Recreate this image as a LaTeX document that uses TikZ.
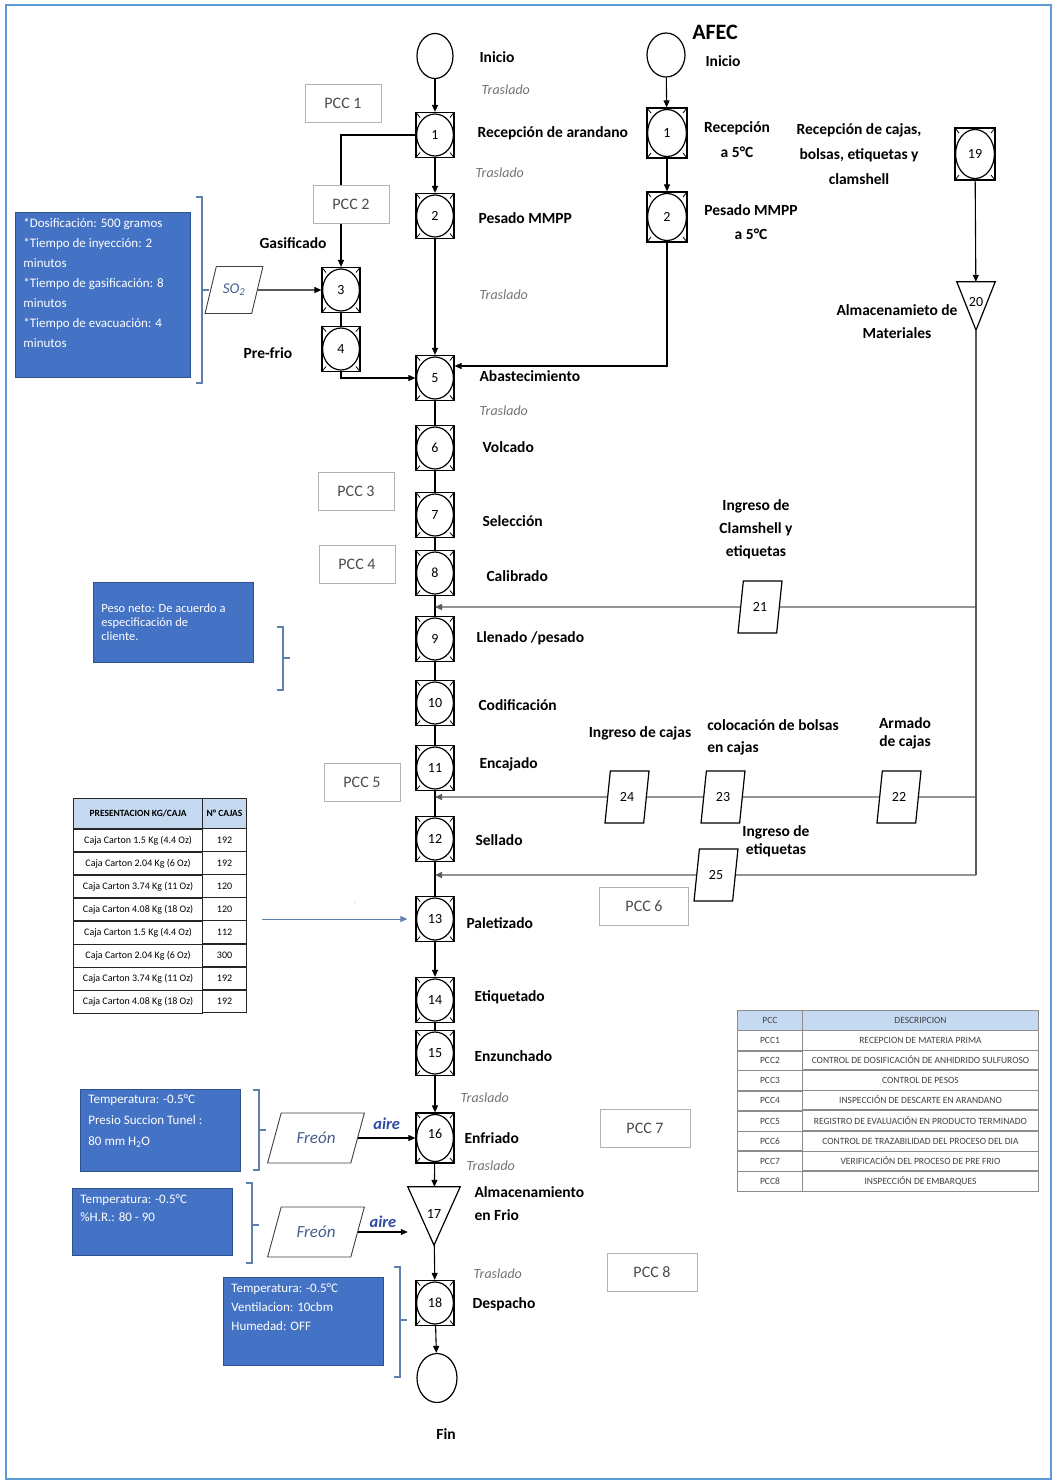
\documentclass[tikz,border=0pt]{standalone}
\usepackage{fontspec}
\setmainfont{Carlito}
\usetikzlibrary{arrows.meta,positioning,shapes.geometric,matrix,calc}

\definecolor{boxblue}{RGB}{68,114,196}
\definecolor{boxedge}{RGB}{47,82,143}
\definecolor{hdrblue}{RGB}{197,217,241}
\definecolor{bracecol}{RGB}{95,128,172}
\definecolor{framecol}{RGB}{91,155,213}
\definecolor{freoncol}{RGB}{70,95,140}
\definecolor{airecol}{RGB}{45,75,160}

\begin{document}
\begin{tikzpicture}[
  x=1pt, y=-1pt,
  opbox/.style={draw, line width=1.2pt, fill=white, minimum width=38pt, minimum height=45pt, inner sep=0pt, font=\fontsize{14}{16}\selectfont,
    path picture={
      \draw[line width=1.2pt] let \p1=(path picture bounding box.north east), \p2=(path picture bounding box.center)
        in (\p2) ellipse[x radius=\x1-\x2-0.6pt, y radius=\y1-\y2-1.5pt];
      \draw[line width=0.8pt] (path picture bounding box.north west) -- ++(4pt,-5pt)
        (path picture bounding box.north east) -- ++(-4pt,-5pt)
        (path picture bounding box.south west) -- ++(4pt,5pt)
        (path picture bounding box.south east) -- ++(-4pt,5pt);}},
  start/.style={draw, ellipse, line width=1.2pt, minimum width=36pt, minimum height=45pt, inner sep=0pt},
  tri/.style={minimum width=52pt, minimum height=58pt, inner sep=0pt, font=\fontsize{14}{16}\selectfont},
  para/.style={trapezium, trapezium left angle=76, trapezium right angle=104, trapezium stretches=true, draw, line width=1.2pt, fill=white, minimum width=44pt, minimum height=52pt, inner sep=0pt, font=\fontsize{14}{16}\selectfont},
  freon/.style={trapezium left angle=57, trapezium right angle=123, minimum width=97pt, minimum height=50pt, line width=0.9pt, draw=black!75, font=\itshape\fontsize{17}{19}\selectfont, text=freoncol},
  lbl/.style={anchor=west, font=\bfseries\fontsize{15.5}{18}\selectfont},
  mlbl/.style={align=center, font=\bfseries\fontsize{15.5}{#1}\selectfont},
  tras/.style={anchor=west, font=\itshape\fontsize{14}{16}\selectfont, text=black!55},
  pccbox/.style={draw=black!30, line width=0.8pt, fill=white, minimum width=76pt, minimum height=38pt, font=\fontsize{16}{18}\selectfont, text=black!70},
  note/.style={draw=boxedge, line width=0.8pt, fill=boxblue, text=white, anchor=north west, inner xsep=8pt, inner ysep=6pt},
  aire/.style={font=\bfseries\itshape\fontsize{16.5}{18}\selectfont, text=airecol},
  flow/.style={line width=1.1pt},
  flowarr/.style={-{Triangle[length=7pt,width=6pt]}, line width=1.1pt},
  feed/.style={line width=1.3pt, black!65},
  feedarr/.style={feed, -{Triangle[length=7pt,width=6pt]}},
  bluearr/.style={-{Triangle[length=7pt,width=6pt]}, line width=0.9pt, bracecol},
  brace/.style={line width=1.3pt, bracecol}
]
\useasboundingbox (0,0) rectangle (1056,1483);
\draw[framecol, line width=2.5pt] (6,5) rectangle (1051,1479);

% main line
\node[start] (ini) at (435,56) {};
\node[opbox] (n1) at (435,135) {1};
\node[opbox] (n2) at (435,216) {2};
\node[opbox] (n3) at (341,290) {3};
\node[opbox] (n4) at (341,349) {4};
\node[opbox] (n5) at (435,378) {5};
\node[opbox] (n6) at (435,448) {6};
\node[opbox] (n7) at (435,515) {7};
\node[opbox] (n8) at (435,573) {8};
\node[opbox] (n9) at (435,639) {9};
\node[opbox] (n10) at (435,703) {10};
\node[opbox] (n11) at (435,768) {11};
\node[opbox] (n12) at (435,839) {12};
\node[opbox] (n13) at (435,919) {13};
\node[opbox] (n14) at (435,1000) {14};
\node[opbox] (n15) at (435,1053) {15};
\node[opbox, minimum height=50pt] (n16) at (435,1138) {\raisebox{9pt}{16}};
\node[tri] (t17) at (434,1216) {\raisebox{4pt}{17}};
\node[opbox] (n18) at (435,1303) {18};
\node[start, minimum width=40pt, minimum height=49pt] (fin) at (437,1378) {};

% AFEC line and materials
\node[start, minimum width=38pt, minimum height=44pt] (a0) at (666,55) {};
\node[opbox, minimum width=40pt, minimum height=50pt] (a1) at (667,133) {1};
\node[opbox, minimum width=40pt, minimum height=50pt] (a2) at (667,217) {2};
\node[opbox, minimum width=40pt, minimum height=52pt] (n19) at (975,154) {19};
\node[tri, minimum width=38pt, minimum height=48pt] (t20) at (976,306) {\raisebox{9pt}{20}};
\foreach \t in {t17,t20}
  \draw[line width=1.2pt] (\t.north west) -- (\t.north east) -- (\t.south) -- cycle;

\node[para] (p21) at (760,607) {21};
\node[para] (p22) at (899,797) {22};
\node[para] (p23) at (723,797) {23};
\node[para] (p24) at (627,797) {24};
\node[para] (p25) at (716,875) {25};
\node[para, trapezium left angle=59, trapezium right angle=121, minimum width=58pt, minimum height=47pt, line width=0.9pt, draw=black!75, font=\itshape\fontsize{15}{17}\selectfont, text=freoncol] (so2) at (234,290) {SO\textsubscript{2}};
\node[para, freon] (fr1) at (316,1138) {Freón};
\node[para, freon] (fr2) at (316,1232) {Freón};

% connectors
\draw[flowarr] (ini) -- (n1);
\draw[flowarr] (n1) -- (n2);
\draw[flowarr] (n2) -- (n5);
\foreach \a/\b in {n5/n6,n6/n7,n7/n8,n8/n9,n9/n10,n10/n11,n11/n12,n12/n13,n14/n15,n3/n4}
  \draw[flow] (\a) -- (\b);
\foreach \a/\b in {n13/n14,n15/n16,n16/t17,t17/n18,n18/fin,a0/a1,a1/a2,n19/t20}
  \draw[flowarr] (\a) -- (\b);
\draw[flowarr] (n1.west) -| (n3.north);
\draw[flowarr] (n4.south) |- (n5.west);
\draw[flowarr] (so2) -- (n3);
\draw[flowarr] (a2.south) |- ([yshift=12pt]n5.east);
\draw[flowarr] (fr1) -- (n16) node[pos=0.5, above=5pt, aire] {aire};
\draw[flowarr] (fr2) -- (fr2 -| t17.west) node[pos=0.5, above=1pt, aire] {aire};

\coordinate (r21) at (976,607);
\coordinate (r22) at (976,797);
\coordinate (r25) at (976,875);
\draw[feed] (t20.south) -- (r25);
\draw[feedarr] (r21) -- (p21) -- (n8.south |- r21);
\draw[feedarr] (r22) -- (p22) -- (p23) -- (p24) -- (n11.south |- r22);
\draw[feedarr] (r25) -- (p25) -- (n12.south |- r25);

% PCC boxes
\node[pccbox] (pcc1) at (343,103) {PCC 1};
\node[pccbox] (pcc2) at (351,204) {PCC 2};
\node[pccbox] (pcc3) at (356,491) {PCC 3};
\node[pccbox] (pcc4) at (357,564) {PCC 4};
\node[pccbox] (pcc5) at (362,782) {PCC 5};
\node[pccbox, minimum width=89pt] (pcc6) at (644,906) {PCC 6};
\node[pccbox, minimum width=90pt] (pcc7) at (645,1128) {PCC 7};
\node[pccbox, minimum width=90pt] (pcc8) at (652,1272) {PCC 8};

% labels
\node[lbl] at (476,57) {Inicio};
\node[lbl] at (474,133) {Recepción de arandano};
\node[lbl] at (475,218) {Pesado MMPP};
\node[lbl] at (476,376) {Abastecimiento};
\node[lbl] at (479,447) {Volcado};
\node[lbl] at (479,521) {Selección};
\node[lbl] at (483,576) {Calibrado};
\node[lbl] at (473,638) {Llenado /pesado};
\node[lbl] at (475,705) {Codificación};
\node[lbl] at (476,764) {Encajado};
\node[lbl] at (472,840) {Sellado};
\node[lbl] at (463,923) {Paletizado};
\node[lbl] at (471,997) {Etiquetado};
\node[lbl] at (471,1056) {Enzunchado};
\node[lbl] at (461,1138) {Enfriado};
\node[lbl, align=left, font=\bfseries\fontsize{15.5}{23}\selectfont] at (471,1204) {Almacenamiento\\en Frio};
\node[lbl] at (469,1304) {Despacho};
\node[lbl, anchor=center] at (446,1434) {Fin};
\node[lbl, anchor=center] at (293,243) {Gasificado};
\node[lbl, anchor=center] at (268,353) {Pre-frio};

\node[tras] at (478,90) {Traslado};
\node[tras] at (472,173) {Traslado};
\node[tras] at (476,295) {Traslado};
\node[tras] at (476,411) {Traslado};
\node[tras] at (457,1098) {Traslado};
\node[tras] at (463,1166) {Traslado};
\node[tras] at (470,1274) {Traslado};

\node[font=\bfseries\fontsize{22}{24}\selectfont] at (715,32) {AFEC};
\node[lbl] at (702,61) {Inicio};
\node[mlbl=25] at (737,140) {Recepción\\a 5°C};
\node[mlbl=24] at (751,222) {Pesado MMPP\\a 5°C};
\node[mlbl=25] at (859,154) {Recepción de cajas,\\bolsas, etiquetas y\\clamshell};
\node[mlbl=23] at (897,322) {Almacenamieto de\\Materiales};
\node[mlbl=23] at (756,529) {Ingreso de\\Clamshell y\\etiquetas};
\node[mlbl=18] at (905,733) {Armado\\de cajas};
\node[mlbl=22, align=left] at (773,737) {colocación de bolsas\\en cajas};
\node[lbl, anchor=center] at (640,733) {Ingreso de cajas};
\node[mlbl=18] at (776,841) {Ingreso de\\etiquetas};

% notes
\node[note, font=\fontsize{13}{20}\selectfont] (dosis) at (15,212)
  {\parbox[t][153pt][t]{159pt}{\raggedright *Dosificación: 500 gramos\\{}*Tiempo de inyección: 2\\minutos\\{}*Tiempo de gasificación: 8\\minutos\\{}*Tiempo de evacuación: 4\\minutos}};
\node[note, font=\fontsize{12.5}{14}\selectfont] (peso) at (93,582)
  {\parbox[t][68pt][c]{144pt}{\raggedright Peso neto: De acuerdo a\\especificación de\\cliente.}};
\node[note, inner ysep=5pt, font=\fontsize{13}{21}\selectfont] (tunel) at (80,1089)
  {\parbox[t][72pt][t]{144pt}{\raggedright Temperatura: -0.5°C\\Presio Succion Tunel :\\80 mm H\textsubscript{2}O}};
\node[note, font=\fontsize{13}{18}\selectfont] (camara) at (72,1188)
  {\parbox[t][55pt][t]{144pt}{\raggedright Temperatura: -0.5°C\\\%H.R.: 80 - 90}};
\node[note, font=\fontsize{13}{19}\selectfont] (contenedor) at (223,1277)
  {\parbox[t][76pt][t]{144pt}{\raggedright Temperatura: -0.5°C\\Ventilacion: 10cbm\\Humedad: OFF}};
\foreach \x/\a/\b/\m in {202/197/383/290, 283/627/690/658, 259/1090/1170/1130, 252/1183/1263/1225, 400/1267/1377/1320}
  \draw[brace] (\x-6,\a) -- (\x,\a) -- (\x,\b) -- (\x-6,\b) (\x,\m) -- (\x+7,\m);

% tables
\matrix (pres) [matrix of nodes, anchor=north west, inner sep=0pt, row sep=-0.8pt, column sep=-0.8pt,
  nodes={draw=black!85, line width=0.8pt, fill=white, minimum height=22.6pt, inner sep=1pt, font=\fontsize{10}{11}\selectfont},
  column 1/.style={nodes={minimum width=129pt}}, column 2/.style={nodes={minimum width=44pt}},
  row 1/.style={nodes={fill=hdrblue, minimum height=30pt, font=\bfseries\fontsize{9.5}{11}\selectfont}}] at (73,798) {
  PRESENTACION KG/CAJA & N° CAJAS \\
  Caja Carton 1.5 Kg (4.4 Oz) & 192 \\
  Caja Carton 2.04 Kg (6 Oz) & 192 \\
  Caja Carton 3.74 Kg (11 Oz) & 120 \\
  Caja Carton 4.08 Kg (18 Oz) & 120 \\
  Caja Carton 1.5 Kg (4.4 Oz) & 112 \\
  Caja Carton 2.04 Kg (6 Oz) & 300 \\
  Caja Carton 3.74 Kg (11 Oz) & 192 \\
  Caja Carton 4.08 Kg (18 Oz) & 192 \\
};
\draw[bluearr, shorten >=8pt] (pres.east |- n13) ++(15pt,0) -- (n13);
\node[font=\tiny, text=black!50] (marca) at (355,903) {..};

\matrix (pcc) [matrix of nodes, anchor=north west, inner sep=0pt, row sep=-0.6pt, column sep=-0.6pt,
  nodes={draw=black!45, line width=0.6pt, fill=white, minimum height=19.6pt, inner sep=1pt, font=\fontsize{9.5}{11}\selectfont, text=black!75},
  column 1/.style={nodes={minimum width=65pt}}, column 2/.style={nodes={minimum width=236pt}},
  row 1/.style={nodes={fill=hdrblue, minimum height=20pt}}] at (737,1010) {
  PCC & DESCRIPCION \\
  PCC1 & RECEPCION DE MATERIA PRIMA \\
  PCC2 & CONTROL DE DOSIFICACIÓN DE ANHIDRIDO SULFUROSO \\
  PCC3 & CONTROL DE PESOS \\
  PCC4 & INSPECCIÓN DE DESCARTE EN ARANDANO \\
  PCC5 & REGISTRO DE EVALUACIÓN EN PRODUCTO TERMINADO \\
  PCC6 & CONTROL DE TRAZABILIDAD DEL PROCESO DEL DIA \\
  PCC7 & VERIFICACIÓN DEL PROCESO DE PRE FRIO \\
  PCC8 & INSPECCIÓN DE EMBARQUES \\
};
\end{tikzpicture}
\end{document}
